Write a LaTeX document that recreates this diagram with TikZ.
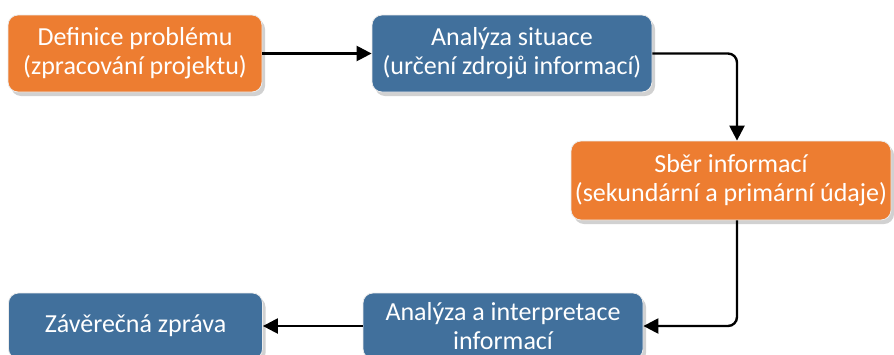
\documentclass[tikz,border=0pt]{standalone}
\usepackage{fontspec}
\setmainfont{Carlito}
\usetikzlibrary{shadows,arrows.meta,calc}
\definecolor{boxorange}{HTML}{ED7D31}
\definecolor{boxblue}{HTML}{41709C}
\begin{document}
\begin{tikzpicture}[x=1pt,y=-1pt,
  box/.style={rectangle,rounded corners=10pt,draw=white!85!gray,line width=0.8pt,text=white,align=center,
    font=\fontsize{26}{29}\selectfont,inner sep=0pt,
    drop shadow={shadow xshift=3pt,shadow yshift=-4pt,opacity=0.3,fill=black!60}},
  obox/.style={box,fill=boxorange},
  bbox/.style={box,fill=boxblue},
  conn/.style={line width=2.4pt,rounded corners=9pt,-{Triangle[length=15pt,width=15pt]}}]
\useasboundingbox (0,0) rectangle (894,354);
\begin{scope}
\clip (0,0) rectangle (894,354);
\node[obox,minimum width=254pt,minimum height=77pt] (def) at (135,53.5) {Definice problému\\(zpracování projektu)};
\node[bbox,minimum width=280pt,minimum height=77pt] (ana) at (512,53.5) {Analýza situace\\(určení zdrojů informací)};
\node[obox,minimum width=320pt,minimum height=79pt] (sber) at (731,180.5) {Sběr informací\\(sekundární a primární údaje)};
\node[bbox,minimum width=280pt,minimum height=66pt] (interp) at (503,326) {Analýza a interpretace\\informací};
\node[bbox,minimum width=254pt,minimum height=66pt] (zprava) at (135.5,326) {Závěrečná zpráva};
\end{scope}
\coordinate (c2) at (737,0);
\draw[conn] (def.east) -- (ana.west);
\draw[conn] (ana.east) -| (c2 |- sber.north);
\draw[conn] (c2 |- sber.south) |- (interp.east);
\draw[conn] (interp.west) -- (zprava.east);
\end{tikzpicture}
\end{document}
